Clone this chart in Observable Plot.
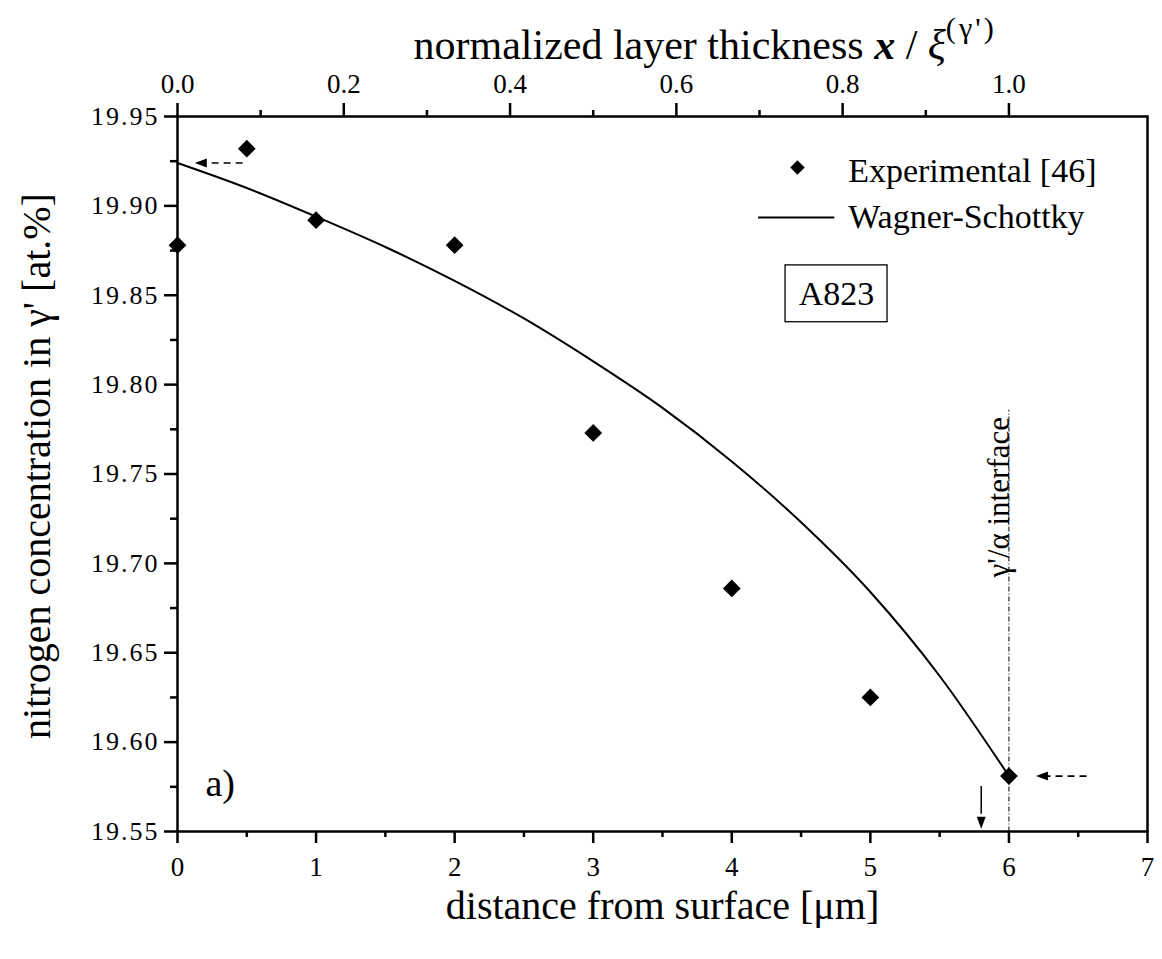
<!DOCTYPE html>
<html>
<head>
<meta charset="utf-8">
<script src="https://cdn.jsdelivr.net/npm/d3@7"></script>
<script src="https://cdn.jsdelivr.net/npm/@observablehq/plot@0.6"></script>
<style>
  html, body { margin: 0; padding: 0; background: #fff; }
  #chart svg { display: block; }
</style>
</head>
<body>
<div id="chart"></div>
<script>
// ---- data ----
const expX = [0, 0.5, 1, 2, 3, 4, 5, 6];
const expY = [19.878, 19.932, 19.892, 19.878, 19.773, 19.686, 19.625, 19.581];

const wsX = [0, 0.5, 1, 1.5, 2, 2.5, 3, 3.5, 4, 4.5, 5, 5.5, 6];
const wsY = [19.924, 19.910, 19.894, 19.877, 19.858, 19.837, 19.813, 19.787, 19.757, 19.723, 19.684, 19.637, 19.581];

const xTicks = [0, 1, 2, 3, 4, 5, 6, 7];
const xMinor = [0.5, 1.5, 2.5, 3.5, 4.5, 5.5, 6.5];
const yTicks = [19.55, 19.60, 19.65, 19.70, 19.75, 19.80, 19.85, 19.90, 19.95];
const yMinor = [19.575, 19.625, 19.675, 19.725, 19.775, 19.825, 19.875, 19.925];
const topTicks = [0.0, 0.2, 0.4, 0.6, 0.8, 1.0];
const topMinor = [0.1, 0.3, 0.5, 0.7, 0.9];
const layerThickness = 6; // µm corresponding to normalized 1.0

// annotations (data coordinates)
const dashedArrows = [
  {x1: 0.47, x2: 0.21, y: 19.924, tipX: 0.125},
  {x1: 6.56, x2: 6.28, y: 19.581, tipX: 6.195}
];
const downArrow = {x: 5.80, y1: 19.5755, y2: 19.560, tipY: 19.5515};
const interfaceLine = {x: 6, y1: 19.55, y2: 19.786, labelY: 19.737};
const legendDot = {x: 4.474, y: 19.9215};
const legendLine = {x1: 4.19, x2: 4.74, y: 19.8935};
const legendTextX = 4.84;
const legendLabels = [
  {y: 19.9195, text: "Experimental [46]"},
  {y: 19.8935, text: "Wagner-Schottky"}
];
const sampleBox = {x1: 4.388, x2: 5.124, y1: 19.8349, y2: 19.8667, text: "A823"};

const titles = {
  bottom: "distance from surface [μm]",
  left: "nitrogen concentration in γ' [at.%]",
  top: "normalized layer thickness x / ξ(γ')"
};

const experimental = expX.map((x, i) => ({x, y: expY[i]}));
const wagner = wsX.map((x, i) => ({x, y: wsY[i]}));

// filled arrowhead pointing right, tip at origin
const arrowHead = {
  draw(ctx) {
    const L = 12, W = 9;
    ctx.moveTo(0, 0);
    ctx.lineTo(-L, -W / 2);
    ctx.lineTo(-L, W / 2);
    ctx.closePath();
  }
};

const FONT = "Liberation Serif, Times New Roman, serif";

const chart = Plot.plot({
  width: 1162,
  height: 959,
  marginLeft: 177,
  marginRight: 15,
  marginTop: 116,
  marginBottom: 128,
  style: {fontFamily: FONT, color: "#000", background: "#fff"},
  x: {domain: [0, 7]},
  y: {domain: [19.55, 19.95]},
  marks: [
    // axes: bottom
    Plot.axisX({anchor: "bottom", ticks: xTicks, tickSize: 12, tickPadding: 13, fontSize: 27, strokeWidth: 2.5, label: null, tickFormat: d => String(d)}),
    Plot.axisX({anchor: "bottom", ticks: xMinor, tickSize: 6, strokeWidth: 2.5, text: null, label: null}),
    // top (normalized)
    Plot.axisX({anchor: "top", ticks: topTicks.map(t => t * layerThickness), tickSize: 14, tickPadding: 10, fontSize: 27, strokeWidth: 2.5, label: null, tickFormat: d => (d / layerThickness).toFixed(1)}),
    Plot.axisX({anchor: "top", ticks: topMinor.map(t => t * layerThickness), tickSize: 7, strokeWidth: 2.5, text: null, label: null}),
    // left
    Plot.axisY({anchor: "left", ticks: yTicks, tickSize: 13, tickPadding: 5, fontSize: 26, strokeWidth: 2.5, label: null, tickFormat: d => d.toFixed(2)}),
    Plot.axisY({anchor: "left", ticks: yMinor, tickSize: 7, strokeWidth: 2.5, text: null, label: null}),
    Plot.frame({stroke: "#000", strokeWidth: 2.5}),

    // interface line and label
    Plot.link([interfaceLine], {x1: "x", x2: "x", y1: "y1", y2: "y2", stroke: "#000", strokeWidth: 1, strokeDasharray: "5,2,1,2"}),
    Plot.text([interfaceLine], {x: "x", y: "labelY", text: () => "γ'/α interface", rotate: -90, lineAnchor: "bottom", textAnchor: "middle", fontSize: 31}),

    // Wagner-Schottky curve
    Plot.line(wagner, {x: "x", y: "y", curve: "monotone-x", stroke: "#000", strokeWidth: 2}),
    // Experimental
    Plot.dot(experimental, {x: "x", y: "y", symbol: "diamond2", r: 8, fill: "#000", stroke: "none"}),

    // dashed arrows
    Plot.link(dashedArrows, {x1: "x1", x2: "x2", y1: "y", y2: "y", stroke: "#000", strokeWidth: 1.6, strokeDasharray: "7,5"}),
    Plot.dot(dashedArrows, {x: "tipX", y: "y", symbol: arrowHead, rotate: 180, fill: "#000", stroke: "none"}),
    // solid down arrow
    Plot.link([downArrow], {x1: "x", x2: "x", y1: "y1", y2: "y2", stroke: "#000", strokeWidth: 1.5}),
    Plot.dot([downArrow], {x: "x", y: "tipY", symbol: arrowHead, rotate: 90, fill: "#000", stroke: "none"}),

    // legend
    Plot.dot([legendDot], {x: "x", y: "y", symbol: "diamond2", r: 6.5, fill: "#000", stroke: "none"}),
    Plot.link([legendLine], {x1: "x1", x2: "x2", y1: "y", y2: "y", stroke: "#000", strokeWidth: 2}),
    Plot.text(legendLabels, {x: () => legendTextX, y: "y", text: "text", textAnchor: "start", fontSize: 34}),

    // sample box
    Plot.rect([sampleBox], {x1: "x1", x2: "x2", y1: "y1", y2: "y2", fill: "none", stroke: "#000", strokeWidth: 1.3}),
    Plot.text([sampleBox], {x: d => (d.x1 + d.x2) / 2, y: d => (d.y1 + d.y2) / 2, text: "text", fontSize: 34}),

    // panel label
    Plot.text(["a)"], {frameAnchor: "bottom-left", dx: 28, dy: -36, fontSize: 38, text: d => d}),

    // axis titles
    Plot.text([titles.bottom], {frameAnchor: "bottom", dy: 87, fontSize: 40, text: d => d}),
    Plot.text([titles.left], {frameAnchor: "left", dx: -140, dy: -8, rotate: -90, textAnchor: "middle", fontSize: 40, text: d => d}),
    Plot.text([titles.top], {frameAnchor: "top-left", textAnchor: "start", dy: -87, dx: 236, fontSize: 42, text: d => d})
  ]
});

const svg = d3.select(chart);
// letter spacing on y tick labels
svg.selectAll('g[aria-label="y-axis tick label"]').attr("letter-spacing", "2px");

// style the top title with bold-italic x and a superscript
svg.selectAll("text").filter(function () { return this.textContent === titles.top; }).each(function () {
  const t = d3.select(this);
  t.text(null);
  t.append("tspan").text("normalized layer thickness ");
  t.append("tspan").attr("font-weight", "bold").attr("font-style", "italic").text("x");
  t.append("tspan").text(" / ");
  t.append("tspan").attr("font-style", "italic").text("ξ");
  t.append("tspan").attr("font-size", "0.72em").attr("dy", "-0.7em").attr("letter-spacing", "3px").text("(γ')");
});

document.getElementById("chart").appendChild(chart);
</script>
</body>
</html>
